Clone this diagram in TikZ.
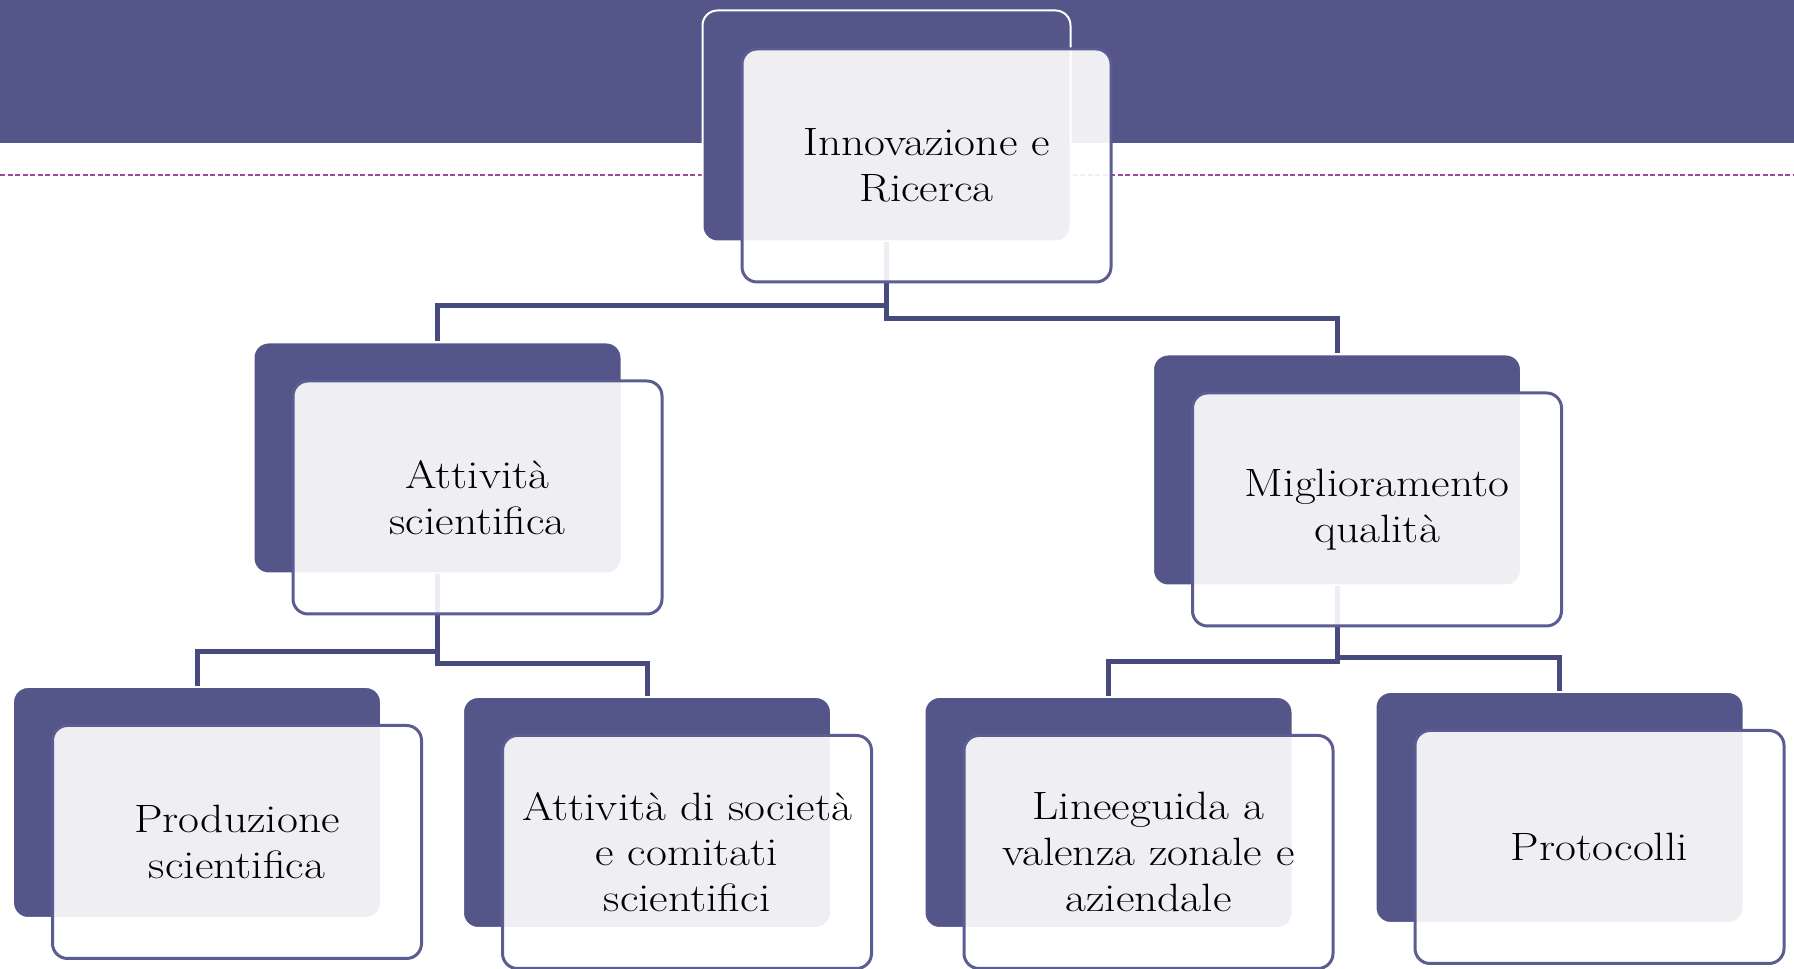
\documentclass[tikz,border=0pt]{standalone}
\usepackage{fontspec}
\setmainfont{Latin Modern Roman}[FakeStretch=1.15]
\usepackage[dvipsnames]{xcolor}
\usepackage{tikz}
\usetikzlibrary{positioning}
\definecolor{BoxPurple}{HTML}{545689}
\definecolor{FramePurple}{HTML}{5A5C92}
\definecolor{LinePurple}{HTML}{474A7D}
\definecolor{DashPurple}{HTML}{9E4A9C}
\tikzset{
    backbox/.style={draw=white, line width=0.04cm, fill=BoxPurple, rounded corners=0.3cm,
        minimum width=7.36cm, minimum height=4.62cm},
    frontbox/.style={draw=FramePurple, line width=0.06cm, fill=white, fill opacity=0.9,
        text opacity=1, rounded corners=0.3cm, minimum width=7.38cm, minimum height=4.66cm,
        align=center, font=\fontsize{22.5}{26}\selectfont},
    link/.style={draw=LinePurple, line width=0.1cm},
}

\begin{document}
\begin{tikzpicture}
                \useasboundingbox (0,0) rectangle (35.88,19.38);
                \fill[BoxPurple] (0,19.38) rectangle (35.88,16.52);
                \draw[DashPurple, line width=0.03cm, dash pattern=on 0.1cm off 0.05cm] (0,15.88) -- (35.88,15.88);
                % back boxes
                \node[backbox] (innovB) at (17.73,16.86) {};
                \node[backbox] (attB) at (8.75,10.22) {};
                \node[backbox] (miglB) at (26.74,9.98) {};
                \node[backbox] (prodB) at (3.94,3.33) {};
                \node[backbox] (socB) at (12.94,3.13) {};
                \node[backbox] (lineeB) at (22.17,3.13) {};
                \node[backbox] (protoB) at (31.19,3.23) {};
                % connectors
                \draw[link] (innovB.south) -- ++(0,-1.26) -| (attB.north);
                \draw[link] (innovB.south) -- ++(0,-1.52) -| (miglB.north);
                \draw[link] (attB.south) -- ++(0,-1.54) -| (prodB.north);
                \draw[link] (attB.south) -- ++(0,-1.78) -| (socB.north);
                \draw[link] (miglB.south) -- ++(0,-1.5) -| (lineeB.north);
                \draw[link] (miglB.south) -- ++(0,-1.42) -| (protoB.north);
                % front boxes
                \node[frontbox] (innov) at ([xshift=0.8cm,yshift=-0.79cm]innovB.center) {Innovazione e\\Ricerca};
                \node[frontbox] (att) at ([xshift=0.8cm,yshift=-0.79cm]attB.center) {Attività\\scientifica};
                \node[frontbox] (migl) at ([xshift=0.8cm,yshift=-0.79cm]miglB.center) {Miglioramento\\qualità};
                \node[frontbox] (prod) at ([xshift=0.8cm,yshift=-0.79cm]prodB.center) {Produzione\\scientifica};
                \node[frontbox] (soc) at ([xshift=0.8cm,yshift=-0.79cm]socB.center) {Attività di società\\e comitati\\scientifici};
                \node[frontbox] (linee) at ([xshift=0.8cm,yshift=-0.79cm]lineeB.center) {Lineeguida a\\valenza zonale e\\aziendale};
                \node[frontbox] (proto) at ([xshift=0.8cm,yshift=-0.79cm]protoB.center) {Protocolli};
\end{tikzpicture}
\end{document}
